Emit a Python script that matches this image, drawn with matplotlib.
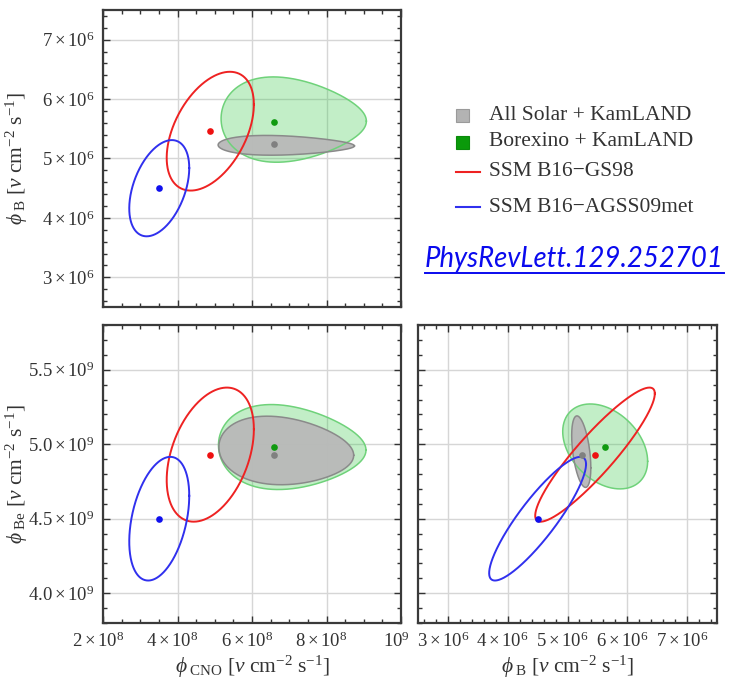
import numpy as np
import matplotlib
matplotlib.use("Agg")
import matplotlib.pyplot as plt
import matplotlib.transforms as mtransforms
from matplotlib.ticker import FixedLocator, FixedFormatter, MultipleLocator, NullFormatter
from matplotlib.patches import Rectangle
from matplotlib.lines import Line2D

plt.rcParams.update({
    "font.family": ["Liberation Serif", "DejaVu Serif"],
    "mathtext.fontset": "custom",
    "mathtext.rm": "Liberation Serif",
    "mathtext.it": "Liberation Serif:italic",
    "mathtext.bf": "Liberation Serif:bold",
})

# ---------------------------------------------------------------- data
labels = ["All Solar + KamLAND", "Borexino + KamLAND",
          "SSM B16\u2212GS98", "SSM B16\u2212AGSS09met"]

# best-fit / predicted fluxes  [nu cm^-2 s^-1]
best_cno = [6.60e8, 6.60e8, 4.88e8, 3.51e8]
best_b = [5.24e6, 5.62e6, 5.46e6, 4.50e6]
best_be = [4.93e9, 4.98e9, 4.93e9, 4.50e9]

# SSM contours: half-extent of each flux and pairwise correlations
ssm_half_cno = [1.17e8, 0.805e8]
ssm_half_b = [1.00e6, 0.81e6]
ssm_half_be = [0.45e9, 0.415e9]
ssm_rho_cno_b = [0.45, 0.42]
ssm_rho_cno_be = [0.38, 0.37]
ssm_rho_b_be = [0.91, 0.88]

# fit regions: (x centre, x half-extent, y centre, y half-extent, correlation, egg skew)
fit_cno_b = [(6.92e8, 1.83e8, 5.22e6, 0.16e6, -0.05, -0.30),
             (7.12e8, 1.95e8, 5.65e6, 0.69e6, -0.03, -0.30)]
fit_cno_be = [(6.92e8, 1.81e8, 4.953e9, 0.226e9, -0.12, -0.20),
              (7.08e8, 1.98e8, 4.977e9, 0.276e9, -0.06, -0.27)]
fit_b_be = [(5.23e6, 0.16e6, 4.95e9, 0.24e9, -0.45, 0.0),
            (5.63e6, 0.71e6, 4.985e9, 0.285e9, -0.35, 0.0)]

# axis ranges and ticks
cno_lim = (2e8, 1e9)
b_lim = (2.5e6, 7.5e6)
be_lim = (3.8e9, 5.8e9)
cno_ticks = [2e8, 4e8, 6e8, 8e8, 1e9]
cno_ticklabels = [r"$2\times10^{8}$", r"$4\times10^{8}$", r"$6\times10^{8}$",
                  r"$8\times10^{8}$", r"$10^{9}$"]
b_ticks = [3e6, 4e6, 5e6, 6e6, 7e6]
b_ticklabels = [r"$%d\times10^{6}$" % v for v in (3, 4, 5, 6, 7)]
be_ticks = [4.0e9, 4.5e9, 5.0e9, 5.5e9]
be_ticklabels = [r"$4.0\times10^{9}$", r"$4.5\times10^{9}$",
                 r"$5.0\times10^{9}$", r"$5.5\times10^{9}$"]

unit = r"\ [\nu\ {\rm cm}^{-2}\ {\rm s}^{-1}]"
lab_cno = r"$\phi_{\rm\ CNO}" + unit + "$"
lab_b = r"$\phi_{\rm\ B}" + unit + "$"
lab_be = r"$\phi_{\rm\ Be}" + unit + "$"

# ---------------------------------------------------------------- style
fill_face = ["#b9b9b9", "#36c848"]
fill_alpha = [0.96, 0.30]
fill_edge = ["#8a8a8a", "#6fd27a"]
line_col = ["#ee2222", "#3030ee"]
dot_col = ["#808080", "#109a10", "#ee1111", "#1010ee"]
text_col = "#333333"


def contour(cx, sx, cy, sy, rho, egg, n=600):
    t = np.linspace(0, 2 * np.pi, n)
    u = np.cos(t)
    v = np.sin(t) * (1 + egg * u)
    return cx + sx * u, cy + sy * (rho * u + np.sqrt(1 - rho ** 2) * v)


def style(ax, xlim, ylim, xt, xtl, yt, ytl, xminor, yminor, showx, showy):
    ax.set_xlim(*xlim)
    ax.set_ylim(*ylim)
    ax.xaxis.set_major_locator(FixedLocator(xt))
    ax.yaxis.set_major_locator(FixedLocator(yt))
    ax.xaxis.set_minor_locator(MultipleLocator(xminor))
    ax.yaxis.set_minor_locator(MultipleLocator(yminor))
    ax.xaxis.set_major_formatter(FixedFormatter(xtl) if showx else NullFormatter())
    ax.yaxis.set_major_formatter(FixedFormatter(ytl) if showy else NullFormatter())
    ax.tick_params(which="both", direction="in", top=True, right=True,
                   color="#333333", width=1.0, labelsize=13.5, labelcolor=text_col)
    ax.tick_params(which="major", length=5, pad=6)
    ax.tick_params(which="minor", length=3)
    ax.grid(True, which="major", color="#d6d6d6", lw=1.0)
    ax.set_axisbelow(True)
    for s in ax.spines.values():
        s.set_linewidth(1.6)
        s.set_color("#3a3a3a")
    # x tick labels sit slightly left of their ticks
    shift = mtransforms.ScaledTranslation(-0.05, 0, fig.dpi_scale_trans)
    for tk in ax.xaxis.get_major_ticks():
        tk.label1.set_transform(tk.label1.get_transform() + shift)


def draw_panel(ax, fits, xbest, ybest, xhalf, yhalf, rho):
    for i, p in enumerate(fits[::-1]):
        k = 1 - i
        x, y = contour(*p)
        ax.fill(x, y, facecolor=fill_face[k], alpha=fill_alpha[k], edgecolor="none", zorder=2)
        ax.plot(x, y, color=fill_edge[k], lw=1.1, zorder=3)
    for j in range(2):
        x, y = contour(xbest[2 + j], xhalf[j], ybest[2 + j], yhalf[j], rho[j], 0.0)
        ax.plot(x, y, color=line_col[j], lw=1.4, zorder=4)
    for j in range(4):
        ax.plot(xbest[j], ybest[j], "o", ms=4.8, color=dot_col[j], mec="none", zorder=5)


fig = plt.figure(figsize=(7.29, 6.81), dpi=100)
W, H = 729.0, 681.0
ax_tl = fig.add_axes([103 / W, 1 - 307 / H, 298 / W, 297 / H])
ax_bl = fig.add_axes([103 / W, 1 - 623 / H, 298 / W, 298 / H])
ax_br = fig.add_axes([418 / W, 1 - 623 / H, 299 / W, 298 / H])

draw_panel(ax_tl, fit_cno_b, best_cno, best_b, ssm_half_cno, ssm_half_b, ssm_rho_cno_b)
draw_panel(ax_bl, fit_cno_be, best_cno, best_be, ssm_half_cno, ssm_half_be, ssm_rho_cno_be)
draw_panel(ax_br, fit_b_be, best_b, best_be, ssm_half_b, ssm_half_be, ssm_rho_b_be)

style(ax_tl, cno_lim, b_lim, cno_ticks, cno_ticklabels, b_ticks, b_ticklabels,
      0.5e8, 0.2e6, False, True)
style(ax_bl, cno_lim, be_lim, cno_ticks, cno_ticklabels, be_ticks, be_ticklabels,
      0.5e8, 0.1e9, True, True)
style(ax_br, b_lim, be_lim, b_ticks, b_ticklabels, be_ticks, be_ticklabels,
      0.2e6, 0.1e9, True, False)

ax_tl.set_ylabel(lab_b, fontsize=15.5, color=text_col)
ax_bl.set_ylabel(lab_be, fontsize=15.5, color=text_col)
ax_bl.set_xlabel(lab_cno, fontsize=15.5, color=text_col)
ax_br.set_xlabel(lab_b, fontsize=15.5, color=text_col)
ax_tl.yaxis.set_label_coords(-0.245, 0.5)
ax_bl.yaxis.set_label_coords(-0.245, 0.5)
ax_bl.xaxis.set_label_coords(0.5, -0.105)
ax_br.xaxis.set_label_coords(0.5, -0.105)

# ---------------------------------------------------------------- key
key = fig.add_axes([0, 0, 1, 1], facecolor="none")
key.set_xlim(0, W)
key.set_ylim(H, 0)
key.axis("off")
rows = [115, 142, 172, 207]
key.add_patch(Rectangle((456, rows[0] - 6.5), 13, 13, facecolor="#b3b3b3", edgecolor="#9a9a9a", lw=0.8))
key.add_patch(Rectangle((456, rows[1] - 6.5), 13, 13, facecolor="#0a9a0a", edgecolor="#0a8a0a", lw=0.8))
key.add_line(Line2D([456, 480], [rows[2], rows[2]], color=line_col[0], lw=1.5))
key.add_line(Line2D([456, 480], [rows[3], rows[3]], color=line_col[1], lw=1.5))
for r, lab in zip(rows, labels):
    key.text(489, r, lab, fontsize=15.5, color=text_col, va="center", ha="left")

link = key.text(425, 259, "PhysRevLett.129.252701", fontsize=19.8, style="italic",
                family=["Lato", "DejaVu Sans"], color="#0a0aee", va="center", ha="left")
fig.canvas.draw()
bb = link.get_window_extent()
yline = H - bb.y0 + 0.5
key.add_line(Line2D([bb.x0, bb.x1], [yline, yline], color="#0a0aee", lw=1.4))

fig.savefig("out.png", dpi=100)
